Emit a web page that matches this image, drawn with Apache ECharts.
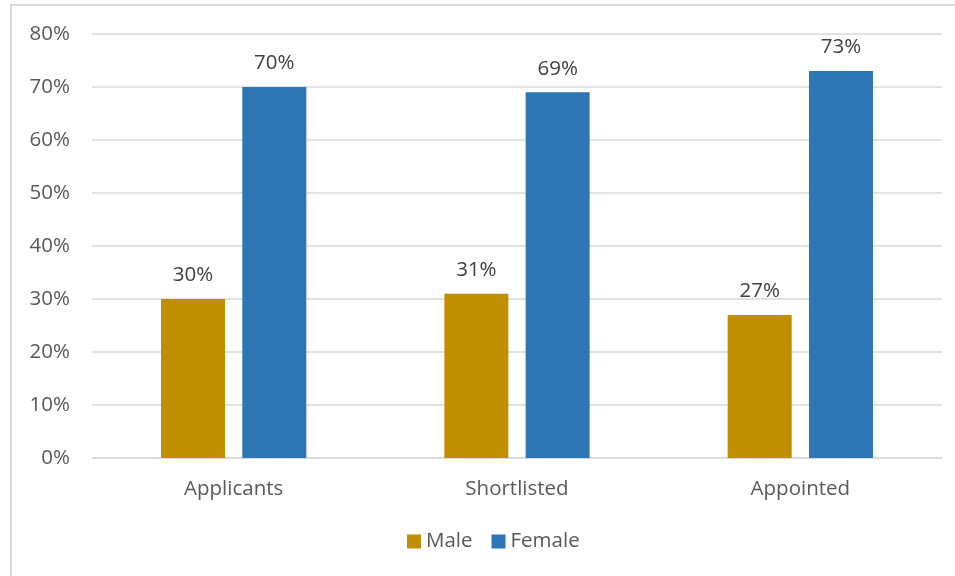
<!DOCTYPE html>
<html><head><meta charset="utf-8">
<script src="https://cdn.jsdelivr.net/npm/echarts@6/dist/echarts.min.js"></script>
<style>html,body{margin:0;padding:0;background:#fff}#c{width:955px;height:576px}</style>
</head><body><div id="c"></div>
<script>
const categories = ['Applicants', 'Shortlisted', 'Appointed'];
const maleValues = [30, 31, 27];
const femaleValues = [70, 69, 73];
const yTicks = [0, 10, 20, 30, 40, 50, 60, 70, 80];

const chart = echarts.init(document.getElementById('c'));
const font = '"Open Sans", "Noto Sans", sans-serif';
const txt = '#595959';
const fs = 20.5;
chart.setOption({
  animation: false,
  textStyle: { fontFamily: font },
  graphic: [{ type: 'rect', shape: { x: 11, y: 5, width: 960, height: 600 }, style: { fill: 'none', stroke: '#d9d9d9', lineWidth: 2 }, silent: true }],
  grid: { left: 92, right: 13, top: 34, bottom: 118 },
  legend: {
    bottom: 19, left: 402, itemWidth: 14, itemHeight: 14, itemGap: 19,
    icon: 'rect',
    textStyle: { color: txt, fontSize: fs, fontFamily: font }
  },
  xAxis: {
    type: 'category', data: categories,
    axisLine: { lineStyle: { color: '#d9d9d9', width: 1.5 } },
    axisTick: { show: false },
    axisLabel: { color: txt, fontSize: fs, margin: 21, fontFamily: font }
  },
  yAxis: {
    type: 'value', min: yTicks[0], max: yTicks[yTicks.length - 1], interval: 10,
    axisLine: { show: false }, axisTick: { show: false },
    splitLine: { lineStyle: { color: '#d9d9d9', width: 1.5 } },
    axisLabel: { color: txt, fontSize: fs, margin: 22, formatter: '{value}%', fontFamily: font }
  },
  series: [
    { name: 'Male', type: 'bar', data: maleValues, barWidth: 64, barGap: '27%',
      itemStyle: { color: '#BF8F00' },
      label: { show: true, position: 'top', distance: 13, formatter: '{c}%', color: '#404040', fontSize: fs, fontFamily: font } },
    { name: 'Female', type: 'bar', data: femaleValues, barWidth: 64,
      itemStyle: { color: '#2E75B6' },
      label: { show: true, position: 'top', distance: 13, formatter: '{c}%', color: '#404040', fontSize: fs, fontFamily: font } }
  ]
});
</script></body></html>
